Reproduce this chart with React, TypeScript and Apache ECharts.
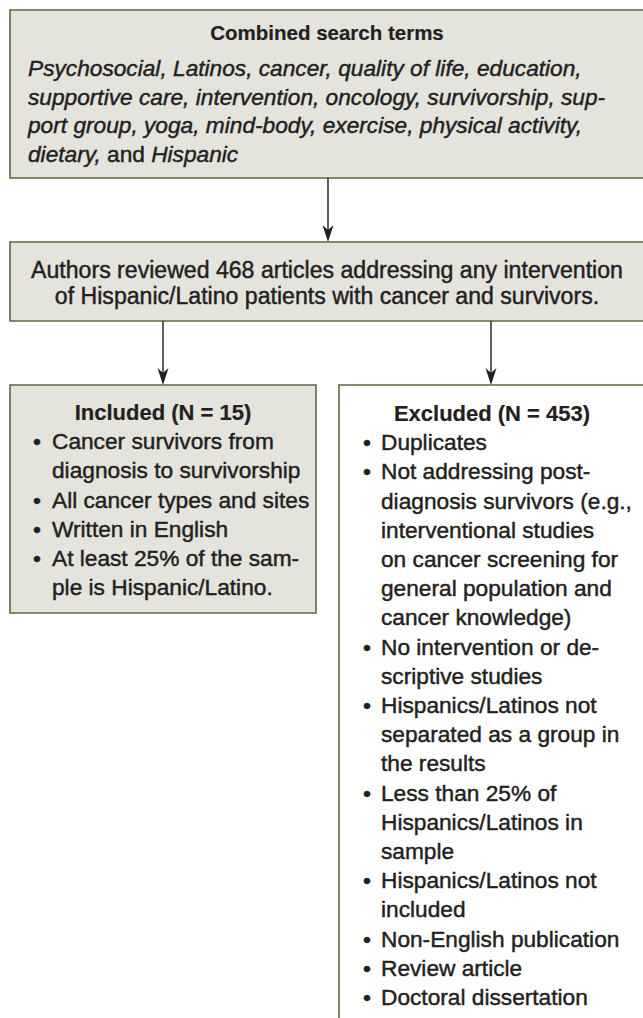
import React, { useEffect, useRef } from "react";
import * as echarts from "echarts";

const topTitle = "Combined search terms";
const topLines = [
  "Psychosocial, Latinos, cancer, quality of life, education,",
  "supportive care, intervention, oncology, survivorship, sup-",
  "port group, yoga, mind-body, exercise, physical activity,",
];
const topLastLine = ["dietary,", "and", "Hispanic"];
const midLines = [
  "Authors reviewed 468 articles addressing any intervention",
  "of Hispanic/Latino patients with cancer and survivors.",
];
const includedTitle = "Included (N = 15)";
const includedItems = [
  ["Cancer survivors from", "diagnosis to survivorship"],
  ["All cancer types and sites"],
  ["Written in English"],
  ["At least 25% of the sam-", "ple is Hispanic/Latino."],
];
const excludedTitle = "Excluded (N = 453)";
const excludedItems = [
  ["Duplicates"],
  [
    "Not addressing post-",
    "diagnosis survivors (e.g.,",
    "interventional studies",
    "on cancer screening for",
    "general population and",
    "cancer knowledge)",
  ],
  ["No intervention or de-", "scriptive studies"],
  ["Hispanics/Latinos not", "separated as a group in", "the results"],
  ["Less than 25% of", "Hispanics/Latinos in", "sample"],
  ["Hispanics/Latinos not", "included"],
  ["Non-English publication"],
  ["Review article"],
  ["Doctoral dissertation"],
];

const FONT = "'Liberation Sans', Arial, sans-serif";
const TXT = "#231f20";
const FILL = "#e4e4dd";
const BORDER = "#5b6a3e";
const BODY = 22.7;
const LH = 29.2;
const EMB = 0.45;

function arrow(x: number, y1: number, y2: number): any[] {
  return [
    {
      type: "line",
      shape: { x1: x, y1, x2: x, y2: y2 - 8 },
      style: { stroke: "#231f20", lineWidth: 1.4 },
    },
    {
      type: "polygon",
      shape: {
        points: [
          [x, y2],
          [x - 5.5, y2 - 17],
          [x, y2 - 12],
          [x + 5.5, y2 - 17],
        ],
      },
      style: { fill: "#231f20" },
    },
  ];
}

function txt(x: number, y: number, s: string, opts: any = {}): any {
  return {
    type: "text",
    style: {
      x,
      y,
      text: s,
      fill: TXT,
      stroke: TXT,
      lineWidth: opts.emb ?? EMB,
      fontFamily: FONT,
      fontSize: opts.size ?? BODY,
      fontWeight: opts.weight ?? "normal",
      fontStyle: opts.style ?? "normal",
      textAlign: opts.align ?? "left",
      textVerticalAlign: "middle",
    },
  };
}

function listEls(
  items: string[][],
  bulletX: number,
  textX: number,
  y0: number
): any[] {
  const els: any[] = [];
  let y = y0;
  items.forEach((lines) => {
    els.push(txt(bulletX, y, "•", { size: BODY }));
    lines.forEach((l) => {
      els.push(txt(textX, y, l));
      y += LH;
    });
  });
  return els;
}

export default function App() {
  const ref = useRef<HTMLDivElement>(null);
  useEffect(() => {
    if (!ref.current) return;
    const chart = echarts.init(ref.current, null, { renderer: "svg" });
    const els: any[] = [];
    // top box
    els.push({
      type: "rect",
      shape: { x: 10, y: 10, width: 640, height: 168 },
      style: { fill: FILL, stroke: BORDER, lineWidth: 1.6 },
    });
    els.push(txt(327, 32, topTitle, { weight: "bold", size: 20.5, align: "center", emb: 0.2 }));
    topLines.forEach((l, i) => {
      els.push(txt(28, 68 + i * 28.5, l, { style: "italic" }));
    });
    els.push({
      type: "text",
      style: {
        x: 28,
        y: 68 + 3 * 28.5,
        text: `{i|${topLastLine[0]}} {r|${topLastLine[1]}} {i|${topLastLine[2]}}`,
        fill: TXT,
        stroke: TXT,
        lineWidth: EMB,
        fontFamily: FONT,
        fontSize: BODY,
        textVerticalAlign: "middle",
        rich: {
          i: { fontStyle: "italic", fontFamily: FONT, fontSize: BODY, fill: TXT, stroke: TXT, lineWidth: EMB },
          r: { fontStyle: "normal", fontFamily: FONT, fontSize: BODY, fill: TXT, stroke: TXT, lineWidth: EMB },
        },
      },
    });
    els.push(...arrow(328, 178, 242));
    // middle box
    els.push({
      type: "rect",
      shape: { x: 10, y: 242, width: 640, height: 79 },
      style: { fill: FILL, stroke: BORDER, lineWidth: 1.6 },
    });
    midLines.forEach((l, i) => {
      els.push(txt(327, 270 + i * 26, l, { align: "center", size: 23.1 }));
    });
    els.push(...arrow(163, 321, 385));
    els.push(...arrow(491, 321, 385));
    // included box
    els.push({
      type: "rect",
      shape: { x: 10, y: 385, width: 306, height: 228 },
      style: { fill: FILL, stroke: BORDER, lineWidth: 1.6 },
    });
    els.push(txt(163, 412, includedTitle, { weight: "bold", size: 22, align: "center", emb: 0.2 }));
    els.push(...listEls(includedItems, 33, 52, 412 + LH));
    // excluded box
    els.push({
      type: "rect",
      shape: { x: 339, y: 385, width: 320, height: 700 },
      style: { fill: "#ffffff", stroke: BORDER, lineWidth: 1.6 },
    });
    els.push(txt(492, 413, excludedTitle, { weight: "bold", size: 22, align: "center", emb: 0.2 }));
    els.push(...listEls(excludedItems, 363, 381, 413 + LH));

    chart.setOption({ animation: false, graphic: { elements: els } });
    return () => chart.dispose();
  }, []);
  return (
    <div
      ref={ref}
      style={{ position: "fixed", left: 0, top: 0, width: 643, height: 1018, background: "#fff" }}
    />
  );
}
